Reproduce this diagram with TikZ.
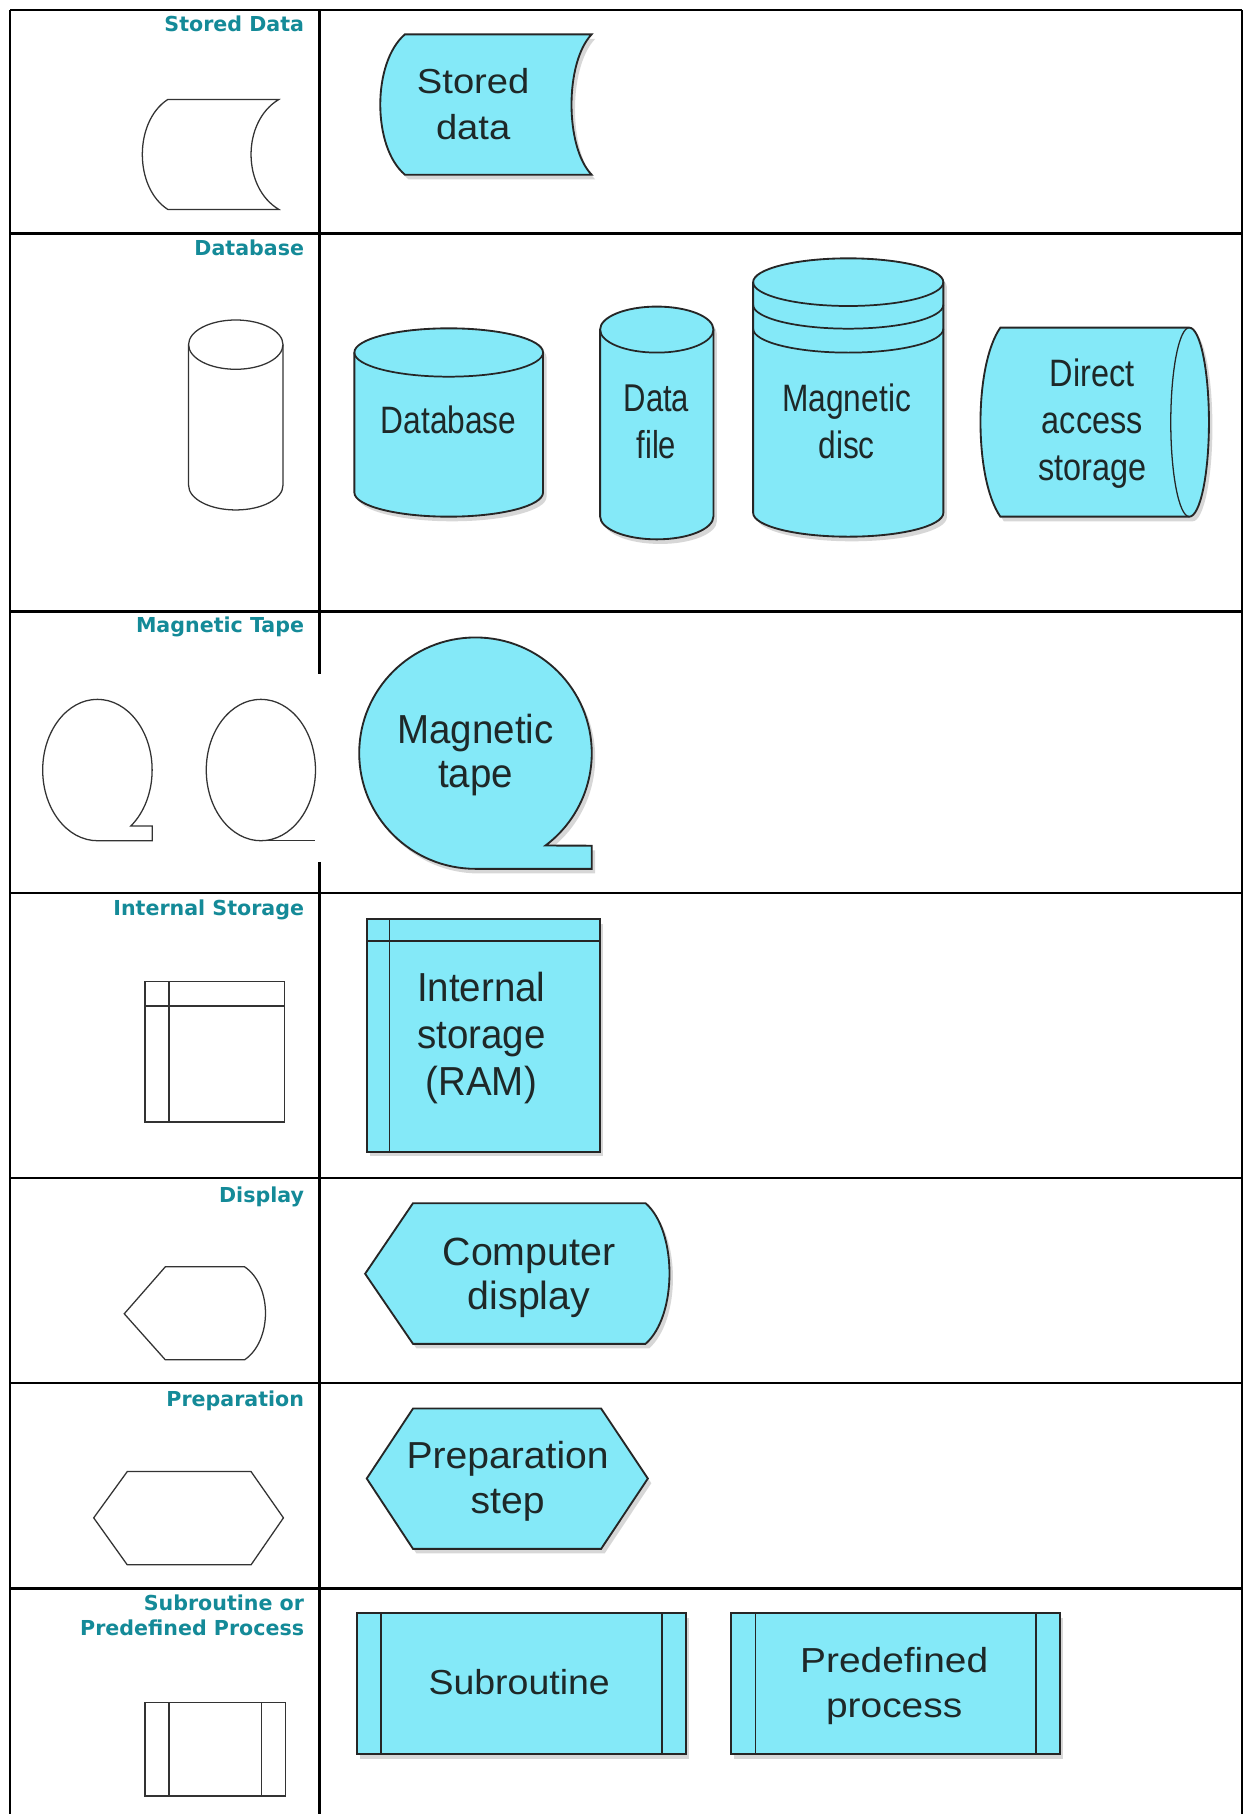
\documentclass[tikz,border=0pt]{standalone}
\usepackage{fontspec}
\usepackage{graphicx}
\usetikzlibrary{shadows}
\newfontfamily\shpfont{Liberation Sans}
\newfontfamily\lblfont{DejaVu Sans}
\definecolor{cyanfill}{RGB}{132,233,248}
\definecolor{tealtxt}{RGB}{20,138,152}
\definecolor{shptxt}{RGB}{30,40,40}
\newcommand\stx[4]{\scalebox{#1}[1]{\fontsize{#2}{#3}\selectfont\begin{tabular}[t]{@{}c@{}}#4\end{tabular}}}
\newcommand\vcyl[6]{%
 \pgfmathsetmacro\cylCx{(#1+#2)/2}\pgfmathsetmacro\cylRx{(#2-#1)/2}%
 \pgfmathsetmacro\cylTa{#3+#5}\pgfmathsetmacro\cylTb{#4-#5}%
 \pgfmathsetmacro\cylKx{0.5523*\cylRx}\pgfmathsetmacro\cylKy{0.5523*#5}%
 \draw[#6] (#1,\cylTa) -- (#1,\cylTb) .. controls (#1,{\cylTb+\cylKy}) and ({\cylCx-\cylKx},#4) .. (\cylCx,#4) .. controls ({\cylCx+\cylKx},#4) and (#2,{\cylTb+\cylKy}) .. (#2,\cylTb) -- (#2,\cylTa) .. controls (#2,{\cylTa-\cylKy}) and ({\cylCx+\cylKx},#3) .. (\cylCx,#3) .. controls ({\cylCx-\cylKx},#3) and (#1,{\cylTa-\cylKy}) .. (#1,\cylTa) -- cycle;}
\newcommand\lowarc[5]{%
 \pgfmathsetmacro\arcCx{(#1+#2)/2}\pgfmathsetmacro\arcKx{0.5523*(#2-#1)/2}\pgfmathsetmacro\arcKy{0.5523*#4}%
 \draw[#5] (#1,#3) .. controls (#1,{#3+\arcKy}) and ({\arcCx-\arcKx},{#3+#4}) .. (\arcCx,{#3+#4}) .. controls ({\arcCx+\arcKx},{#3+#4}) and (#2,{#3+\arcKy}) .. (#2,#3);}
\begin{document}
\begin{tikzpicture}[x=1pt,y=-1pt,
  tbl/.style={draw=black,line width=2pt},
  sym/.style={draw=black!80,line width=1.1pt,fill=white},
  symline/.style={draw=black!80,line width=1.1pt},
  symb/.style={draw=black!80,line width=1.5pt,fill=white},
  symbline/.style={draw=black!80,line width=1.5pt},
  shp/.style={draw=black!85,line width=1.6pt,fill=cyanfill,drop shadow={shadow xshift=3pt,shadow yshift=-4pt,fill=black!22,opacity=0.7}},
  shpline/.style={draw=black!85,line width=1.5pt},
  lbl/.style={font={\lblfont\bfseries\fontsize{17.8}{21.6}\selectfont},text=tealtxt,inner sep=0pt,anchor=base east},
  stext/.style={font=\shpfont,text=shptxt,inner sep=0pt,anchor=base}]
\useasboundingbox[fill=white] (0,0) rectangle (1074.4,1568);
% table
\draw[tbl] (8.5,8.6) -- (1073.3,8.6);
\draw[tbl] (8.5,8.6) -- (8.5,1568);
\draw[tbl] (1073.3,8.6) -- (1073.3,1568);
\draw[tbl] (276.2,8.6) -- (276.2,583);
\draw[tbl] (276.2,745) -- (276.2,1568);
\foreach \yy in {201.7,528.7,771.6,1018,1195.7,1373} {\draw[tbl] (8.5,\yy) -- (1073.3,\yy);}
% labels
\node[lbl] (l1) at (263,27.4) {Stored Data};
\node[lbl] (l2) at (263,221) {Database};
\node[lbl] (l3) at (263,547) {Magnetic Tape};
\node[lbl] (l4) at (263,791.5) {Internal Storage};
\node[lbl] (l5) at (263,1039) {Display};
\node[lbl] (l6) at (263,1216) {Preparation};
\node[lbl] (l7) at (263,1392) {\begin{tabular}[t]{@{}r@{}}Subroutine or\\Predefined Process\end{tabular}};
% row 1: stored data
\draw[sym] (145,86) -- (241,86) .. controls (209,105) and (209,162) .. (241,181) -- (145,181) .. controls (115.7,162) and (115.7,105) .. (145,86) -- cycle;
\draw[shp] (350,29.7) -- (511.4,29.7) .. controls (488.2,54) and (488.2,127) .. (511.4,151) -- (350,151) .. controls (321.6,127) and (321.6,54) .. (350,29.7) -- cycle;
\node[stext] (t1) at (409,80.6) {\stx{1.1}{30}{40.4}{Stored\\data}};
% row 2: database
\vcyl{163}{244.6}{276.6}{440.8}{21.3}{sym}
\lowarc{163}{244.6}{297.9}{21.3}{symline}
\vcyl{306.3}{469.4}{283.8}{446.6}{20.9}{shp}
\lowarc{306.3}{469.4}{304.7}{20.9}{shpline}
\vcyl{518.7}{616.7}{265}{466.2}{19.9}{shp}
\lowarc{518.7}{616.7}{284.9}{19.9}{shpline}
\vcyl{651}{815.4}{223.3}{463.9}{20.6}{shp}
\lowarc{651}{815.4}{243.9}{20.6}{shpline}
\lowarc{651}{815.4}{263.5}{20.6}{shpline}
\lowarc{651}{815.4}{284.2}{20.6}{shpline}
\draw[shp] (864.7,283.2) -- (1028,283.2) .. controls (1037.4,283.2) and (1045,319.9) .. (1045,365) .. controls (1045,410.1) and (1037.4,446.6) .. (1028,446.6) -- (864.7,446.6) .. controls (841.8,413.9) and (841.8,315.9) .. (864.7,283.2) -- cycle;
\draw[shpline,line width=1.1pt] (1028,283.2) .. controls (1019.2,283.2) and (1012,319.9) .. (1012,365) .. controls (1012,410.1) and (1019.2,446.6) .. (1028,446.6);
\node[stext] (t2) at (387.8,375) {\stx{0.83}{33}{40}{Database}};
\node[stext] (t3) at (567.4,356) {\stx{0.8}{33.5}{40}{Data\\file}};
\node[stext] (t4) at (731.8,356) {\stx{0.83}{33}{40}{Magnetic\\disc}};
\node[stext] (t5) at (944.2,334) {\stx{0.85}{33}{40.5}{Direct\\access\\storage}};
% row 3: magnetic tape
\draw[sym] (84.2,726.7) arc[start angle=90,end angle=412.4,x radius=47.3,y radius=61.1] -- (131.6,714) -- (131.6,726.7) -- cycle;
\draw[sym] (225.5,665.6) ellipse[x radius=47.2,y radius=61.1];
\draw[symline] (225.5,726.7) -- (272.7,726.7);
\draw[shp] (411,751) arc[start angle=90,end angle=413,x radius=100.5,y radius=100] -- (511.5,731) -- (511.5,751) -- cycle;
\node[stext] (t6) at (411,643) {\stx{0.95}{35}{38}{Magnetic\\tape}};
% row 4: internal storage
\draw[symb] (125.4,848.5) rectangle (246,969.6);
\draw[symbline] (145.9,848.5) -- (145.9,969.6);
\draw[symbline] (125.4,869.3) -- (246,869.3);
\draw[shp] (317.2,794.4) rectangle (518.5,995.5);
\draw[shpline] (336.7,794.4) -- (336.7,995.5);
\draw[shpline] (317.2,813.4) -- (518.5,813.4);
\node[stext] (t7) at (416,866) {\stx{0.95}{35}{40.3}{Internal\\storage\\(RAM)}};
% row 5: display
\draw[sym] (107.4,1135.6) -- (142.9,1095) -- (211.4,1095) .. controls (235.5,1111) and (235.5,1159) .. (211.4,1175.4) -- (142.9,1175.4) -- cycle;
\draw[shp] (315.6,1101) -- (357,1040) -- (558,1040) .. controls (585.6,1064) and (585.6,1137.4) .. (558,1161.6) -- (357,1161.6) -- cycle;
\node[stext] (t8) at (457.3,1093.5) {\stx{1.0}{34}{38.5}{Computer\\display}};
% row 6: preparation
\draw[sym] (81,1312) -- (110,1272) -- (217,1272) -- (245,1312) -- (217,1352.6) -- (110,1352.6) -- cycle;
\draw[shp] (317,1278) -- (357,1217.5) -- (519.6,1217.5) -- (560,1278) -- (519.6,1338.8) -- (357,1338.8) -- cycle;
\node[stext] (t9) at (438.8,1269) {\stx{1.04}{32.5}{39}{Preparation\\step}};
% row 7: subroutine
\draw[symb] (125.4,1471.5) rectangle (246.7,1552.5);
\draw[symbline] (146,1471.5) -- (146,1552.5);
\draw[symbline] (226.1,1471.5) -- (226.1,1552.5);
\draw[shp] (308.3,1394.5) rectangle (592.7,1516.2);
\draw[shpline] (329.6,1394.5) -- (329.6,1516.2);
\draw[shpline] (572.2,1394.5) -- (572.2,1516.2);
\draw[shp] (631.8,1394.5) rectangle (916.1,1516.2);
\draw[shpline] (653,1394.5) -- (653,1516.2);
\draw[shpline] (895.5,1394.5) -- (895.5,1516.2);
\node[stext] (t10) at (448.8,1465.1) {\stx{1.08}{30}{39}{Subroutine}};
\node[stext] (t11) at (772.9,1446) {\stx{1.12}{30}{39}{Predefined\\process}};
\end{tikzpicture}
\end{document}
